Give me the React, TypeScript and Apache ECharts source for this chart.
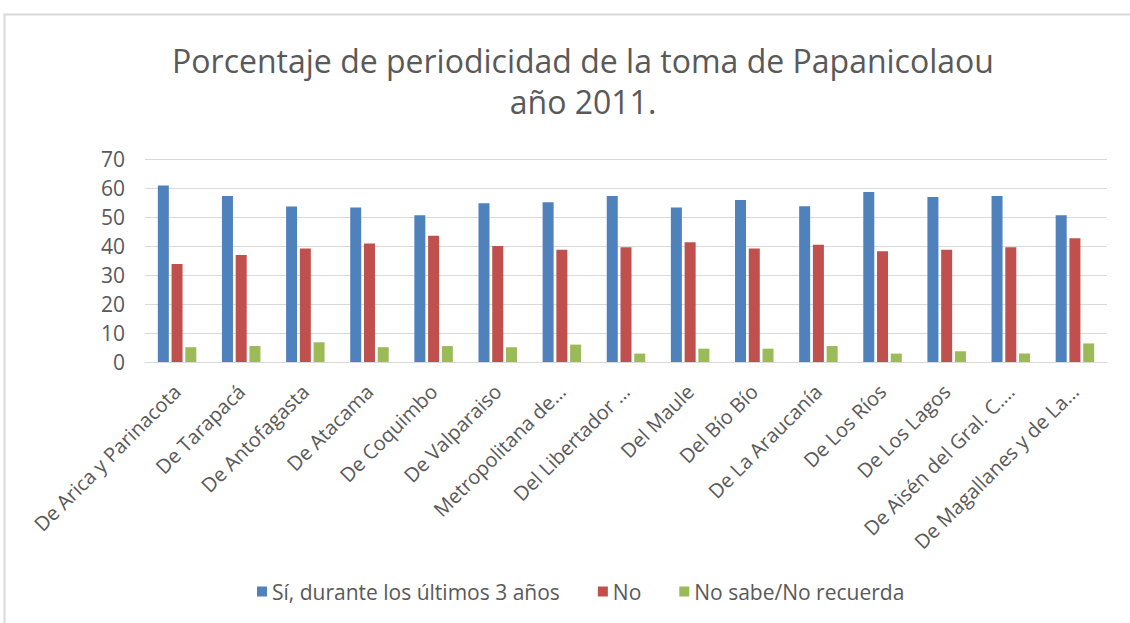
import React, { useEffect, useRef } from "react";
import * as echarts from "echarts";

const categories = [
  "De Arica y Parinacota",
  "De Tarapacá",
  "De Antofagasta",
  "De Atacama",
  "De Coquimbo",
  "De Valparaiso",
  "Metropolitana de…",
  "Del Libertador …",
  "Del Maule",
  "Del Bío Bío",
  "De La Araucanía",
  "De Los Ríos",
  "De Los Lagos",
  "De Aisén del Gral. C.…",
  "De Magallanes y de La…",
];

const siValues = [60.9, 57.2, 53.6, 53.3, 50.6, 54.7, 55.1, 57.2, 53.3, 55.9, 53.7, 58.6, 56.9, 57.2, 50.6];
const noValues = [33.8, 36.9, 39.1, 40.9, 43.5, 40.0, 38.7, 39.6, 41.3, 39.1, 40.4, 38.2, 38.7, 39.6, 42.7];
const nsValues = [5.1, 5.5, 6.8, 5.1, 5.5, 5.1, 6.0, 2.9, 4.6, 4.6, 5.5, 2.9, 3.7, 2.9, 6.4];

const seriesNames = ["Sí, durante los últimos 3 años", "No", "No sabe/No recuerda"];
const colors = ["#4F81BD", "#C0504D", "#9BBB59"];

export default function App() {
  const ref = useRef<HTMLDivElement>(null);
  useEffect(() => {
    if (!ref.current) return;
    const chart = echarts.init(ref.current, null, { renderer: "svg" });
    const font = "'Open Sans', 'Noto Sans', sans-serif";
    const text = "#595959";
    const dataSets = [siValues, noValues, nsValues];
    chart.setOption({
      animation: false,
      backgroundColor: "#ffffff",
      textStyle: { fontFamily: font },
      title: {
        text: "Porcentaje de periodicidad de la toma de Papanicolaou\naño 2011.",
        left: 578,
        top: 35,
        textAlign: "center",
        textStyle: {
          fontFamily: font,
          fontSize: 32,
          fontWeight: "normal",
          color: text,
          lineHeight: 41,
        },
      },
      graphic: [
        {
          type: "rect",
          shape: { x: 4.5, y: 14.5, width: 1140, height: 620 },
          style: { fill: "none", stroke: "#d9d9d9", lineWidth: 2 },
          silent: true,
        },
      ],
      legend: {
        data: seriesNames,
        left: 252,
        top: 576,
        itemWidth: 10,
        itemHeight: 10,
        itemGap: 38,
        icon: "rect",
        textStyle: { fontFamily: font, fontSize: 21, color: text },
      },
      grid: { left: 145, right: 23, top: 159, bottom: 261 },
      xAxis: {
        type: "category",
        data: categories,
        axisLine: { show: true, lineStyle: { color: "#d9d9d9", width: 1 } },
        axisTick: { show: false },
        axisLabel: {
          rotate: 45,
          interval: 0,
          margin: 26,
          fontSize: 20,
          color: text,
          fontFamily: font,
        },
      },
      yAxis: {
        type: "value",
        min: 0,
        max: 70,
        interval: 10,
        axisLine: { show: false },
        axisTick: { show: false },
        splitLine: { lineStyle: { color: "#d9d9d9", width: 1 } },
        axisLabel: { fontSize: 21, color: text, fontFamily: font, margin: 20 },
      },
      series: seriesNames.map((name, i) => ({
        name,
        type: "bar",
        data: dataSets[i],
        barWidth: 11,
        barGap: "25%",
        itemStyle: { color: colors[i] },
      })),
    });
    return () => chart.dispose();
  }, []);
  return (
    <div
      ref={ref}
      style={{ position: "fixed", left: 0, top: 0, width: 1130, height: 623 }}
    />
  );
}
